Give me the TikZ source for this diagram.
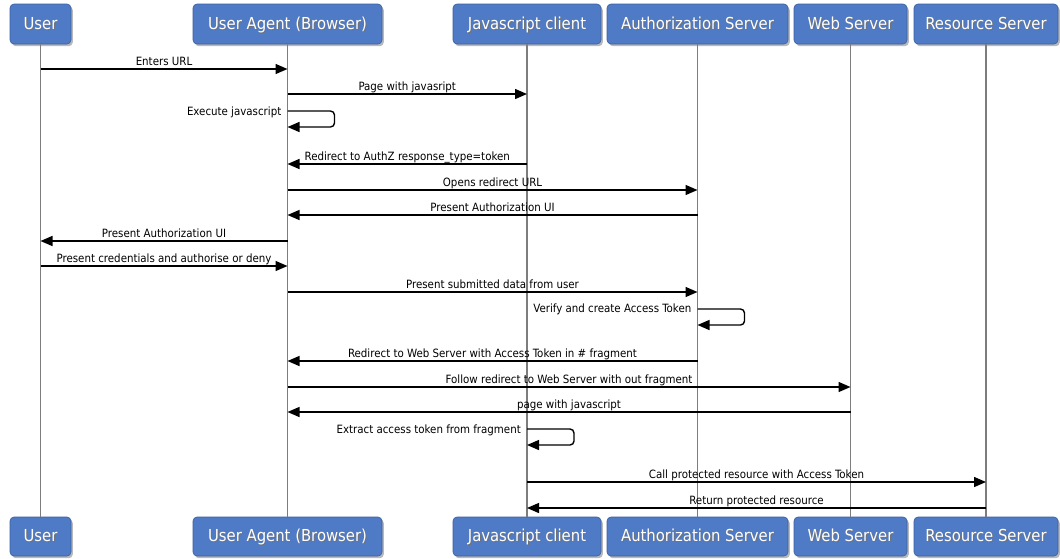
\documentclass[tikz,border=0pt]{standalone}
\usepackage{fontspec}
\newfontfamily\actorfont{DejaVu Sans Condensed}
\newfontfamily\msgfont{DejaVu Sans Condensed}
\usetikzlibrary{arrows.meta,shadows}

\definecolor{actorblue}{RGB}{78,122,198}
\definecolor{actoredge}{RGB}{58,94,158}
\definecolor{lifegray}{RGB}{125,125,125}
\definecolor{msgink}{RGB}{0,0,0}

% white caption with a soft dark offset behind it
\newcommand{\castshadow}[1]{\makebox[0pt][l]{\hspace{1pt}\raisebox{-1pt}{\color{black!55}#1}}#1}

\tikzset{
  actor/.style={draw=actoredge, line width=0.6pt, fill=actorblue,
    rounded corners=4pt, text=white, inner sep=0pt,
    text height=11pt, text depth=1pt,
    font=\actorfont\fontsize{16.5}{18}\selectfont,
    drop shadow={shadow xshift=1.8pt, shadow yshift=-2.2pt, opacity=0.55}},
  lifeline/.style={draw=lifegray, line width=1.8pt},
  msg/.style={draw=msgink, line width=1.4pt,
    -{Triangle[length=12pt,width=10pt]}},
  msglabel/.style={font=\msgfont\fontsize{11.4}{12}\selectfont, text=msgink,
    inner sep=0.5pt, text height=8.5pt, text depth=2.5pt, above},
  selflabel/.style={font=\msgfont\fontsize{11.4}{12}\selectfont, text=msgink,
    inner sep=0pt, text height=8.5pt, text depth=2.5pt, anchor=east},
  selfloop/.style={msg, rounded corners=4pt},
}

\begin{document}
\begin{tikzpicture}[x=1pt, y=-1pt]
\useasboundingbox (0,0) rectangle (1060,558);

% participants, top row
\node[actor, minimum width=61pt,  minimum height=40pt] (user) at (40.5,24)  {\castshadow{User}};
\node[actor, minimum width=189pt, minimum height=40pt] (ua)   at (287.5,24) {\castshadow{User Agent (Browser)}};
\node[actor, minimum width=148pt, minimum height=40pt] (js)   at (527,24)   {\castshadow{Javascript client}};
\node[actor, minimum width=181pt, minimum height=40pt] (as)   at (697.5,24) {\castshadow{Authorization Server}};
\node[actor, minimum width=113pt, minimum height=40pt] (ws)   at (850.5,24) {\castshadow{Web Server}};
\node[actor, minimum width=144pt, minimum height=40pt] (rs)   at (986,24)   {\castshadow{Resource Server}};

% participants, bottom row
\node[actor, minimum width=61pt,  minimum height=39pt] (userB) at (40.5,536.5)  {\castshadow{User}};
\node[actor, minimum width=189pt, minimum height=39pt] (uaB)   at (287.5,536.5) {\castshadow{User Agent (Browser)}};
\node[actor, minimum width=148pt, minimum height=39pt] (jsB)   at (527,536.5)   {\castshadow{Javascript client}};
\node[actor, minimum width=181pt, minimum height=39pt] (asB)   at (697.5,536.5) {\castshadow{Authorization Server}};
\node[actor, minimum width=113pt, minimum height=39pt] (wsB)   at (850.5,536.5) {\castshadow{Web Server}};
\node[actor, minimum width=144pt, minimum height=39pt] (rsB)   at (986,536.5)   {\castshadow{Resource Server}};

% lifelines
\draw[lifeline] (user.south) -- (userB.north);
\draw[lifeline] (ua.south)   -- (uaB.north);
\draw[lifeline] (js.south)   -- (jsB.north);
\draw[lifeline] (as.south)   -- (asB.north);
\draw[lifeline] (ws.south)   -- (wsB.north);
\draw[lifeline] (rs.south)   -- (rsB.north);

% messages
\draw[msg] (user |- 0,69) -- node[msglabel] {Enters URL} (ua |- 0,69);
\draw[msg] (ua |- 0,94) -- node[msglabel] {Page with javasript} (js |- 0,94);

\draw[selfloop] (ua |- 0,111) -- ++(47,0) -- ++(0,16) -- (ua |- 0,127);
\node[selflabel] (l3) at ([xshift=-6pt]ua |- 0,112) {Execute javascript};

\draw[msg] (js |- 0,164) -- node[msglabel] {Redirect to AuthZ response\_type=token} (ua |- 0,164);
\draw[msg] (ua |- 0,190) -- node[msglabel] {Opens redirect URL} (as |- 0,190);
\draw[msg] (as |- 0,215) -- node[msglabel] {Present Authorization UI} (ua |- 0,215);
\draw[msg] (ua |- 0,241) -- node[msglabel] {Present Authorization UI} (user |- 0,241);
\draw[msg] (user |- 0,266) -- node[msglabel] {Present credentials and authorise or deny} (ua |- 0,266);
\draw[msg] (ua |- 0,292) -- node[msglabel] {Present submitted data from user} (as |- 0,292);

\draw[selfloop] (as |- 0,309) -- ++(47,0) -- ++(0,16) -- (as |- 0,325);
\node[selflabel] (l10) at ([xshift=-6pt]as |- 0,309) {Verify and create Access Token};

\draw[msg] (as |- 0,361) -- node[msglabel] {Redirect to Web Server with Access Token in \# fragment} (ua |- 0,361);
\draw[msg] (ua |- 0,387) -- node[msglabel] {Follow redirect to Web Server with out fragment} (ws |- 0,387);
\draw[msg] (ws |- 0,412) -- node[msglabel] {page with javascript} (ua |- 0,412);

\draw[selfloop] (js |- 0,429) -- ++(47,0) -- ++(0,16) -- (js |- 0,445);
\node[selflabel] (l14) at ([xshift=-6pt]js |- 0,430) {Extract access token from fragment};

\draw[msg] (js |- 0,482) -- node[msglabel] {Call protected resource with Access Token} (rs |- 0,482);
\draw[msg] (rs |- 0,508) -- node[msglabel] {Return protected resource} (js |- 0,508);
\end{tikzpicture}
\end{document}
